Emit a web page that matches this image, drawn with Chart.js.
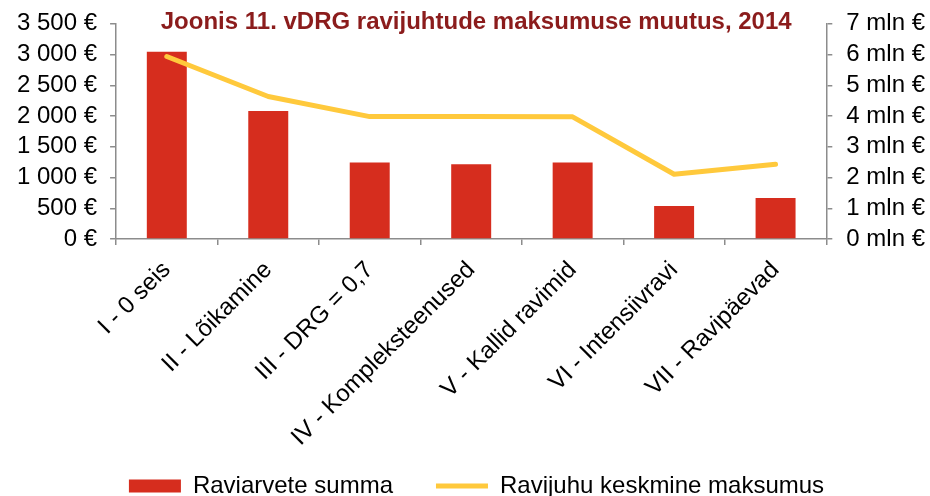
<!DOCTYPE html>
<html>
<head>
<meta charset="utf-8">
<script src="https://cdn.jsdelivr.net/npm/chart.js@4"></script>
<style>
  html, body { margin: 0; padding: 0; background: #fff; overflow: hidden; }
  #wrap { position: relative; width: 930px; height: 528px; }
</style>
</head>
<body>
<div id="wrap"><canvas id="chart"></canvas></div>
<script>
// Andmed (loetud jooniselt)
const categories = ['I - 0 seis', 'II - Lõikamine', 'III - DRG = 0,7', 'IV - Kompleksteenused',
    'V - Kallid ravimid', 'VI - Intensiivravi', 'VII - Ravipäevad'];
const raviarveteSumma = [6.09, 4.16, 2.49, 2.43, 2.49, 1.07, 1.33];      // mln €
const keskmineMaksumus = [2968, 2317, 1991, 1991, 1987, 1053, 1216];    // €
const leftTicks = [0, 500, 1000, 1500, 2000, 2500, 3000, 3500];
const rightTicks = [0, 1, 2, 3, 4, 5, 6, 7];

const RED = '#D62D1E';
const YELLOW = '#FFC93C';
const AXIS = '#8C8C8C';
const FONT = "'Liberation Sans', Arial, sans-serif";

Chart.defaults.font.family = FONT;
Chart.defaults.color = '#000';

// tuhandete eraldaja tühikuga
function fmtEur(v) {
    return String(v).replace(/\B(?=(\d{3})+(?!\d))/g, ' ') + ' €';
}

// legendi ja pealkirja asendi peenhäälestus
const boxShift = {
    id: 'boxShift',
    afterLayout(chart) {
        const lg = chart.legend;
        lg.left += 5; lg.right += 5;
        lg.top -= 20; lg.bottom -= 20;
        const t = chart.titleBlock;
        t.left += 5; t.right += 5;
    }
};

new Chart(document.getElementById('chart'), {
    data: {
        labels: categories,
        datasets: [
            {
                type: 'line',
                label: 'Ravijuhu keskmine maksumus',
                data: keskmineMaksumus,
                yAxisID: 'y',
                borderColor: YELLOW,
                backgroundColor: YELLOW,
                borderWidth: 5,
                borderCapStyle: 'round',
                borderJoinStyle: 'round',
                pointRadius: 0,
                pointStyle: 'line',
                tension: 0,
                order: 1
            },
            {
                type: 'bar',
                label: 'Raviarvete summa',
                data: raviarveteSumma,
                yAxisID: 'y1',
                backgroundColor: RED,
                borderWidth: 0,
                pointStyle: 'rect',
                categoryPercentage: 1,
                barPercentage: 0.394,
                order: 2
            }
        ]
    },
    plugins: [boxShift],
    options: {
        responsive: true,
        maintainAspectRatio: false,
        animation: false,
        layout: { padding: { left: 4, right: -9, top: 0, bottom: 0 } },
        plugins: {
            title: {
                display: true,
                text: 'Joonis 11. vDRG ravijuhtude maksumuse muutus, 2014',
                color: '#8B1C1C',
                fullSize: false,
                font: { size: 24, weight: 'bold' },
                padding: { top: 8, bottom: -13 }
            },
            legend: {
                position: 'bottom',
                reverse: true,
                labels: {
                    usePointStyle: true,
                    pointStyleWidth: 52,
                    boxHeight: 13,
                    padding: 43,
                    font: { size: 24 },
                    color: '#000'
                }
            },
            tooltip: { enabled: false }
        },
        scales: {
            x: {
                offset: true,
                afterFit: axis => { axis.height = 212; },
                grid: { offset: true, drawOnChartArea: false, tickLength: 6, color: AXIS, lineWidth: 1.5 },
                border: { color: AXIS, width: 1.5 },
                ticks: { maxRotation: 45, minRotation: 45, padding: 11, autoSkip: false, font: { size: 24 }, color: '#000' }
            },
            y: {
                position: 'left',
                min: 0,
                max: 3500,
                afterBuildTicks: axis => { axis.ticks = leftTicks.map(v => ({ value: v })); },
                grid: { drawOnChartArea: false, tickLength: 6, color: AXIS, lineWidth: 1.5 },
                border: { color: AXIS, width: 1.5 },
                ticks: { padding: 13, autoSkip: false, font: { size: 24, lineHeight: 0.8 }, color: '#000', callback: v => fmtEur(v) }
            },
            y1: {
                position: 'right',
                min: 0,
                max: 7,
                afterBuildTicks: axis => { axis.ticks = rightTicks.map(v => ({ value: v })); },
                grid: { drawOnChartArea: false, tickLength: 6, color: AXIS, lineWidth: 1.5 },
                border: { color: AXIS, width: 1.5 },
                ticks: { padding: 14, autoSkip: false, font: { size: 24, lineHeight: 0.8 }, color: '#000', callback: v => v + ' mln €' }
            }
        }
    }
});
</script>
</body>
</html>
